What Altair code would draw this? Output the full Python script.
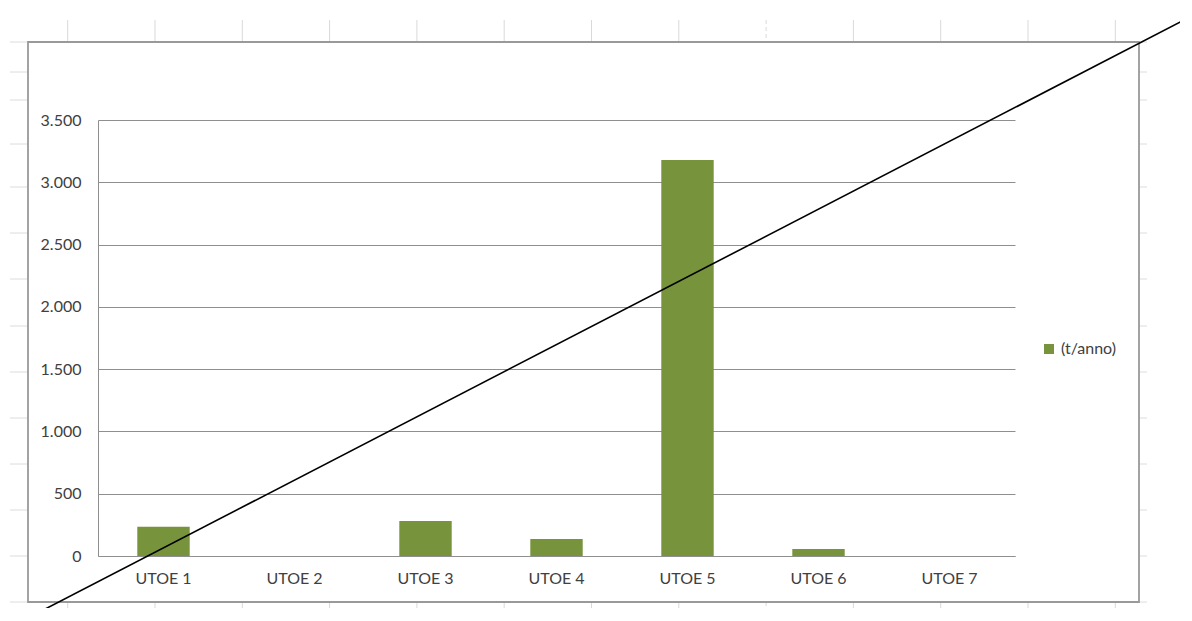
import altair as alt
import pandas as pd

# ---- chart data ----
categories = ["UTOE 1", "UTOE 2", "UTOE 3", "UTOE 4", "UTOE 5", "UTOE 6", "UTOE 7"]
values = [235, 0, 281, 136, 3178, 56, 0]
series_name = "(t/anno)"
y_ticks = [0, 500, 1000, 1500, 2000, 2500, 3000, 3500]

df = pd.DataFrame({"cat": categories, "val": values, "serie": [series_name] * len(categories)})

W, H = 917, 436
FONT = "Lato"
TXT = "#404040"
GRID = "#8f8f8f"

bars = alt.Chart(df).mark_bar(color="#77933C").encode(
    x=alt.X("cat:N", sort=categories, title=None,
            scale=alt.Scale(paddingInner=0.6, paddingOuter=0.3),
            axis=alt.Axis(labelAngle=0, ticks=False, grid=False, domainColor=GRID, domainWidth=1,
                          labelPadding=14, labelFont=FONT, labelFontSize=16, labelColor=TXT)),
    y=alt.Y("val:Q", title=None,
            scale=alt.Scale(domain=[0, 3500], nice=False),
            axis=alt.Axis(values=y_ticks, ticks=False, domainColor=GRID, domainWidth=1,
                          gridColor=GRID, gridWidth=1, labelPadding=17,
                          labelFont=FONT, labelFontSize=16, labelColor=TXT,
                          labelExpr="replace(format(datum.value, ','), ',', '.')")),
    color=alt.Color("serie:N", scale=alt.Scale(range=["#77933C"]), title=None,
                    legend=alt.Legend(orient="none", legendX=943, legendY=221,
                                      symbolType="square", symbolSize=100, symbolStrokeWidth=0,
                                      labelFont=FONT, labelFontSize=16, labelColor=TXT,
                                      labelOffset=4, padding=0)),
)

# ---- decoration: spreadsheet cell grid around the chart object, chart frame, strike line ----
col_x = [-30.3 + i * 87.3 for i in range(13)]
cols_top = pd.DataFrame({"x": col_x, "y": [-100] * 13, "y2": [-78] * 13,
                         "dash": ["d" if i == 8 else "s" for i in range(13)]})
cols_bot = pd.DataFrame({"x": col_x, "y": [482] * 13, "y2": [505] * 13,
                         "dash": ["d" if i == 8 else "s" for i in range(13)]})
row_y = [y - 120 for y in [42, 72, 100, 144, 187, 233, 279, 326, 372, 418, 464, 510, 556, 602]]
rows_left = pd.DataFrame({"y": row_y, "x": [-88] * len(row_y), "x2": [-70] * len(row_y)})
rows_right = pd.DataFrame({"y": row_y, "x": [1042] * len(row_y), "x2": [1049] * len(row_y)})

def vlines(d):
    return alt.Chart(d).mark_rule(color="#d9d9d9", strokeWidth=1).encode(
        x=alt.X("x:Q", scale=None, axis=None), y=alt.Y("y:Q", scale=None, axis=None), y2="y2:Q",
        strokeDash=alt.StrokeDash("dash:N", scale=alt.Scale(domain=["s", "d"], range=[[1, 0], [4, 3]]),
                                  legend=None))

def hlines(d):
    return alt.Chart(d).mark_rule(color="#dcdcdc", strokeWidth=1).encode(
        x=alt.X("x:Q", scale=None, axis=None), x2="x2:Q", y=alt.Y("y:Q", scale=None, axis=None))

frame = alt.Chart(pd.DataFrame({"a": [0]})).mark_rect(
    fill=None, stroke="#999999", strokeWidth=1.8).encode(
    x=alt.value(-70), x2=alt.value(1041), y=alt.value(-78), y2=alt.value(482))

strike = alt.Chart(pd.DataFrame({"a": [0]})).mark_rule(color="black", strokeWidth=1.6).encode(
    x=alt.value(-76), y=alt.value(501), x2=alt.value(1094), y2=alt.value(-104))

chart = alt.layer(
    vlines(cols_top), vlines(cols_bot), hlines(rows_left), hlines(rows_right),
    frame, bars, strike
).resolve_scale(strokeDash="independent").properties(
    width=W, height=H,
    background="white",
    autosize=alt.AutoSizeParams(type="none"),
    padding={"left": 90, "top": 112, "right": 165, "bottom": 52},
).configure_view(strokeWidth=0, strokeOpacity=0)

chart.save("out.html", embed_options={"renderer": "svg", "actions": False})
